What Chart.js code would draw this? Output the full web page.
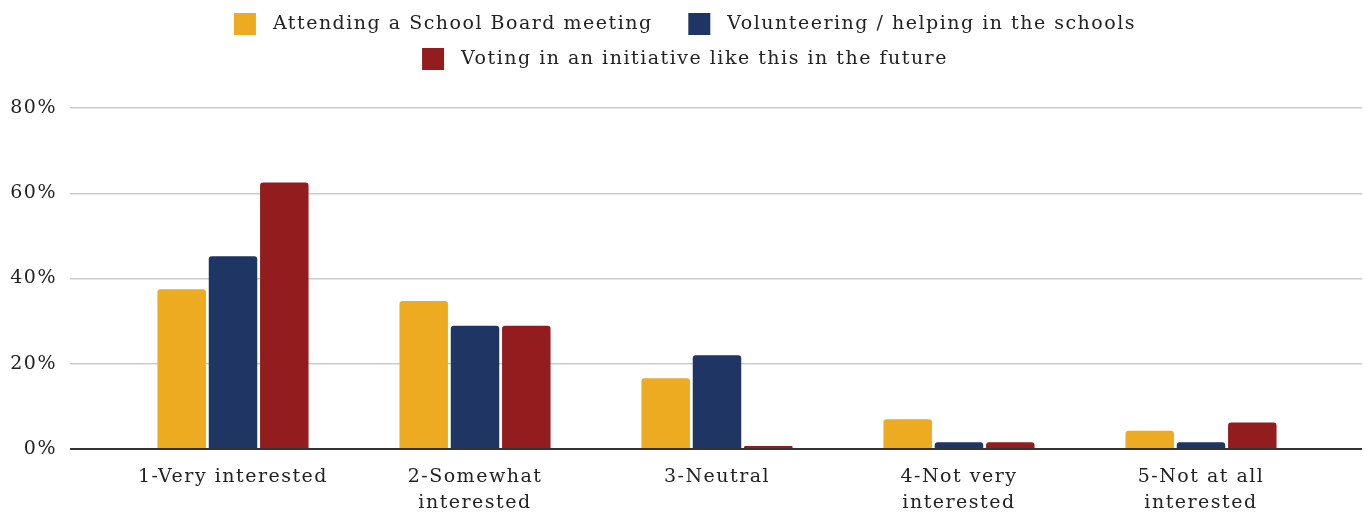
<!DOCTYPE html>
<html>
<head>
<meta charset="utf-8">
<script src="https://cdn.jsdelivr.net/npm/chart.js@4"></script>
<style>
  html, body { margin: 0; padding: 0; background: #fff; }
  #wrap { width: 1364px; height: 517px; }
</style>
</head>
<body>
<div id="wrap"><canvas id="myChart"></canvas></div>
<script>
// categories and values (percent)
var categories = [
    ['1-Very interested'],
    ['2-Somewhat', 'interested'],
    ['3-Neutral'],
    ['4-Not very', 'interested'],
    ['5-Not at all', 'interested']
];
var seriesNames = [
    'Attending a School Board meeting',
    'Volunteering / helping in the schools',
    'Voting in an initiative like this in the future'
];
var attending = [37.5, 34.7, 16.6, 7.0, 4.3];
var volunteering = [45.2, 28.9, 22.0, 1.6, 1.6];
var voting = [62.5, 28.9, 0.7, 1.6, 6.2];
var yTicks = [0, 20, 40, 60, 80];

var colors = ['#ECAB20', '#1F3564', '#931C1F'];
var fontFamily = '"DejaVu Serif", Georgia, serif';

// letter spacing (canvas state is reset on resize, so set it every time)
var tweaks = {
    id: 'tweaks',
    beforeInit: function (chart) {
        var fit = chart.legend.fit;
        chart.legend.fit = function () {
            chart.ctx.letterSpacing = '1.5px';
            fit.bind(chart.legend)();
            this.height += 28;
        };
    },
    beforeLayout: function (chart) { chart.ctx.letterSpacing = '1.5px'; },
    beforeDraw: function (chart) { chart.ctx.letterSpacing = '1.5px'; }
};

function gridColor(c) { return c.tick.value === 0 ? '#333' : '#cccccc'; }
function gridWidth(c) { return c.tick.value === 0 ? 2 : 1.5; }
function setTicks(axis) {
    axis.ticks = yTicks.map(function (v) { return { value: v }; });
}

var ctx = document.getElementById('myChart').getContext('2d');

var chartConfig = {
    type: 'bar',
    data: {
        labels: categories,
        datasets: [attending, volunteering, voting].map(function (vals, i) {
            return {
                label: seriesNames[i],
                data: vals,
                backgroundColor: colors[i],
                borderRadius: { topLeft: 3, topRight: 3 },
                borderSkipped: 'bottom',
                categoryPercentage: 0.636,
                barPercentage: 0.945
            };
        })
    },
    options: {
        responsive: true,
        maintainAspectRatio: false,
        animation: false,
        layout: { padding: { left: 8, right: 2, top: 0, bottom: 0 } },
        plugins: {
            tooltip: { enabled: false },
            legend: {
                position: 'top',
                labels: {
                    boxWidth: 22,
                    boxHeight: 22,
                    padding: 13,
                    color: '#222',
                    font: { family: fontFamily, size: 19 },
                    generateLabels: function (chart) {
                        return chart.data.datasets.map(function (ds, i) {
                            var text = ' ' + ds.label + (i === 0 ? '   ' : '');
                            return {
                                text: text,
                                fillStyle: ds.backgroundColor,
                                strokeStyle: ds.backgroundColor,
                                lineWidth: 0,
                                datasetIndex: i,
                                fontColor: '#222'
                            };
                        });
                    }
                }
            }
        },
        scales: {
            x: {
                offset: true,
                grid: { display: false, drawTicks: false },
                border: { display: false },
                afterFit: function (axis) { axis.height = 68; },
                ticks: {
                    autoSkip: false,
                    maxRotation: 0,
                    padding: 15,
                    color: '#222',
                    font: { family: fontFamily, size: 19, lineHeight: 1.37 }
                }
            },
            y: {
                position: 'left',
                min: 0,
                max: 80,
                border: { display: false },
                grid: { tickLength: 42, color: gridColor, lineWidth: gridWidth },
                afterBuildTicks: setTicks,
                afterFit: function (axis) { axis.width = 104; },
                ticks: {
                    padding: 13,
                    color: '#222',
                    font: { family: fontFamily, size: 19 },
                    callback: function (v) { return v + '%'; }
                }
            },
            yRight: {
                position: 'right',
                min: 0,
                max: 80,
                border: { display: false },
                grid: { tickLength: 40, drawOnChartArea: false, color: gridColor, lineWidth: gridWidth },
                afterBuildTicks: setTicks,
                afterFit: function (axis) { axis.width = 40; },
                ticks: { display: false }
            }
        }
    },
    plugins: [tweaks]
};

var chart = new Chart(ctx, chartConfig);
</script>
</body>
</html>
